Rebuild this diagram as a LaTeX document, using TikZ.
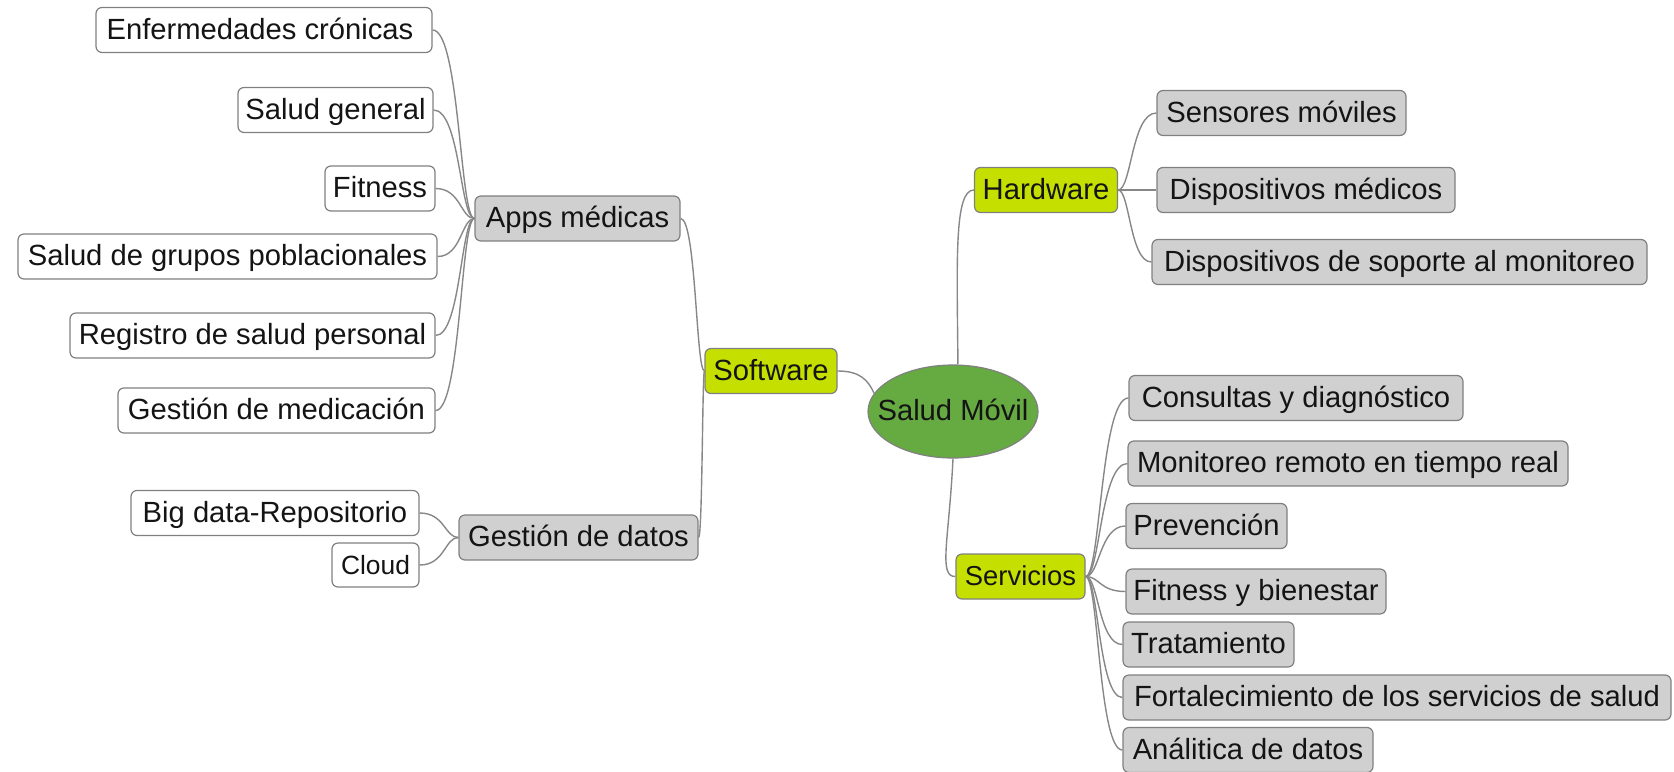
\documentclass[tikz,border=0pt]{standalone}
\usepackage{fontspec}
\setmainfont{Liberation Sans}
\usetikzlibrary{calc,shapes.geometric}
\definecolor{boxgray}{RGB}{208,208,208}
\definecolor{edgegray}{RGB}{128,128,128}
\definecolor{linegray}{RGB}{135,135,135}
\definecolor{lime}{RGB}{197,224,0}
\definecolor{mmgreen}{RGB}{102,170,66}
\definecolor{txt}{RGB}{20,20,20}
\tikzset{
  base/.style={draw=edgegray, line width=0.6pt, rounded corners=3pt, inner xsep=2pt, inner ysep=0pt,
    minimum height=22.5pt, text height=10.6pt, text depth=1.4pt, text=txt,
    font=\fontsize{14.6}{17}\selectfont},
  leaf/.style={base, fill=white},
  sub/.style={base, fill=boxgray},
  mainbr/.style={base, fill=lime},
  center/.style={ellipse, draw=edgegray, line width=0.6pt, fill=mmgreen, text=txt,
    minimum width=85pt, minimum height=46.5pt, inner sep=0pt, text height=10.6pt, text depth=1.4pt,
    font=\fontsize{14.6}{17}\selectfont},
  conn/.style={draw=linegray, line width=0.7pt},
  mm/.style={conn, to path={let \p1=(\tikztostart), \p2=(\tikztotarget),
      \p3=($(\tikztostart)!0.35!(\tikztotarget)$) in
      .. controls (\x3,\y1) and (\x3,\y2) .. (\tikztotarget)}}
}
\begin{document}
\begin{tikzpicture}[x=0.5pt,y=-0.5pt]
\useasboundingbox (0,0) rectangle (1674,771);
% center
\node[center] (sm) at (953,411.5) {\makebox[0pt][c]{Salud Móvil}};
% main branches
\node[mainbr, minimum width=66pt] (soft) at (771,371) {Software};
\node[mainbr, minimum width=71.5pt] (hw) at (1046,190) {Hardware};
\node[mainbr, minimum width=64.5pt, font=\fontsize{13.7}{16}\selectfont] (serv) at (1020.5,576.5) {Servicios};
% software children
\node[sub, minimum width=102.5pt] (apps) at (577.5,218.5) {Apps médicas};
\node[sub, minimum width=119.5pt] (datos) at (578.5,537.5) {Gestión de datos};
% apps leaves
\node[leaf, minimum width=168pt] (enf) at (264,30) {Enfermedades crónicas\hspace*{4pt}};
\node[leaf, minimum width=97.5pt] (sg) at (335.5,110) {Salud general};
\node[leaf, minimum width=55pt] (fit) at (380,188.5) {Fitness};
\node[leaf, minimum width=209.5pt] (grp) at (227.5,256.5) {Salud de grupos poblacionales};
\node[leaf, minimum width=182.5pt] (reg) at (252.5,335.5) {Registro de salud personal};
\node[leaf, minimum width=158.5pt] (med) at (276.5,410.5) {Gestión de medicación};
% datos leaves
\node[leaf, minimum width=144pt] (big) at (275,513) {Big data-Repositorio};
\node[leaf, minimum width=43.5pt, minimum height=22pt, font=\fontsize{13.2}{16}\selectfont] (cloud) at (375.5,565) {Cloud};
% hardware children
\node[sub, minimum width=124.5pt] (sens) at (1281.5,113) {Sensores móviles};
\node[sub, minimum width=149pt] (dmed) at (1306,190) {Dispositivos médicos};
\node[sub, minimum width=247.5pt] (dsop) at (1399.5,262) {Dispositivos de soporte al monitoreo};
% servicios children
\node[sub, minimum width=167pt] (cons) at (1296,398) {Consultas y diagnóstico};
\node[sub, minimum width=220pt] (mon) at (1348,463.5) {Monitoreo remoto en tiempo real};
\node[sub, minimum width=80.5pt] (prev) at (1206.5,526) {Prevención};
\node[sub, minimum width=130pt] (fitb) at (1256,591.5) {Fitness y bienestar};
\node[sub, minimum width=85.5pt] (trat) at (1208.5,644.5) {Tratamiento};
\node[sub, minimum width=274pt] (fort) at (1397,697.5) {Fortalecimiento de los servicios de salud};
\node[sub, minimum width=125pt] (anal) at (1248,750) {Análitica de datos};
% connectors from center
\draw[conn] (sm.167) .. controls (868,380) and (860,371) .. (soft.east);
\draw[conn] (sm.84) .. controls (957,260) and (954,190) .. (hw.west);
\draw[conn] (sm.south) .. controls (949,540) and (938,577) .. (serv.west);
% software
\path (soft.west) edge[mm] (apps.east);
\path (soft.west) edge[mm] (datos.east);
% apps
\foreach \c in {enf,sg,fit,grp,reg,med}{\path (apps.west) edge[mm] (\c.east);}
% datos
\foreach \c in {big,cloud}{\path (datos.west) edge[mm] (\c.east);}
% hardware
\foreach \c in {sens,dmed,dsop}{\path (hw.east) edge[mm] (\c.west);}
% servicios
\foreach \c in {cons,mon,prev,fitb,trat,fort,anal}{\path (serv.east) edge[mm] (\c.west);}
\end{tikzpicture}
\end{document}
